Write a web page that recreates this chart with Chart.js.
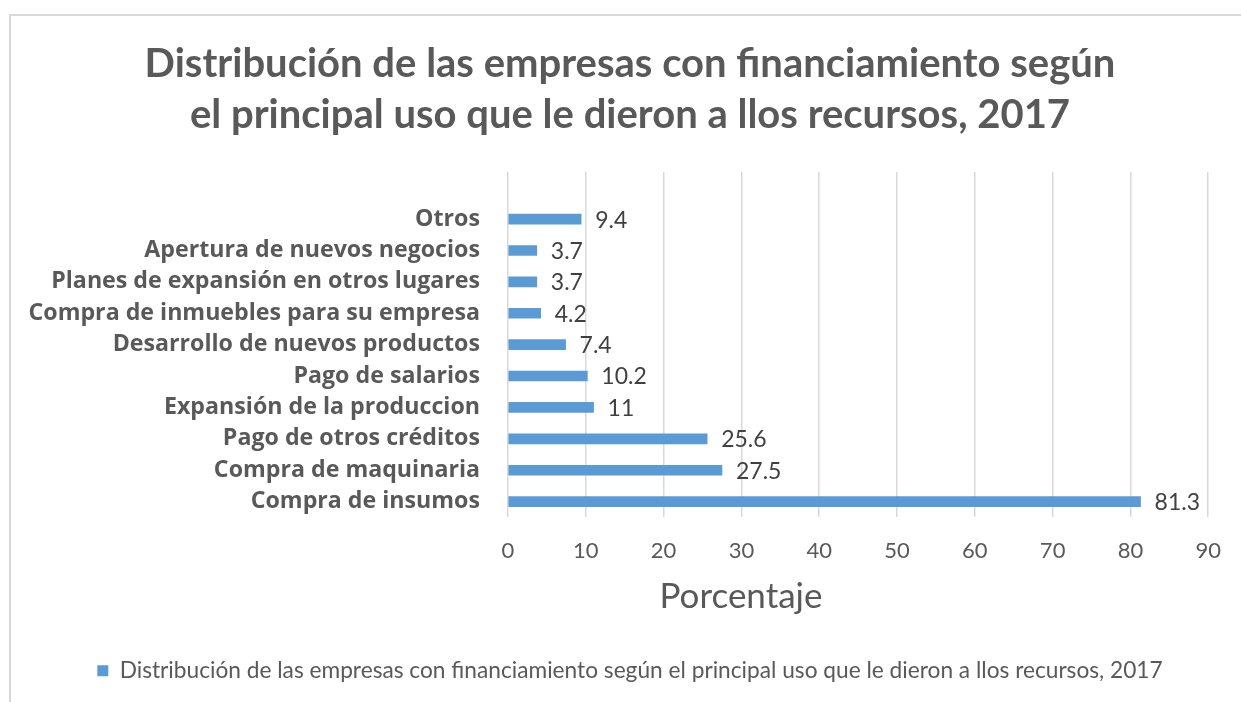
<!DOCTYPE html>
<html>
<head>
<meta charset="utf-8">
<script src="https://cdn.jsdelivr.net/npm/chart.js@4/dist/chart.umd.min.js"></script>
<style>
  html, body { margin: 0; padding: 0; background: #fff; overflow: hidden; }
  #chart { display: block; }
</style>
</head>
<body>
<canvas id="chart" width="1241" height="702"></canvas>
<script>
// top to bottom, as in the picture
var categories = [
    'Otros',
    'Apertura de nuevos negocios',
    'Planes de expansión en otros lugares',
    'Compra de inmuebles para su empresa',
    'Desarrollo de nuevos productos',
    'Pago de salarios',
    'Expansión de la produccion',
    'Pago de otros créditos',
    'Compra de maquinaria',
    'Compra de insumos'
]
var values = [9.4, 3.7, 3.7, 4.2, 7.4, 10.2, 11, 25.6, 27.5, 81.3]
var xTicks = [0, 10, 20, 30, 40, 50, 60, 70, 80, 90]
var xTitle = 'Porcentaje'
var seriesName = 'Distribución de las empresas con financiamiento según el principal uso que le dieron a llos recursos, 2017'
var titleLines = ['Distribución de las empresas con financiamiento según', 'el principal uso que le dieron a llos recursos, 2017']

// empty slot on top, Excel leaves one there
var labels = [''].concat(categories)
var data = [null].concat(values)

var FONT = 'Lato, "Open Sans", sans-serif'
var LABEL_FONT = '"Open Sans", Lato, sans-serif'

var frame = {
    id: 'frame',
    beforeDraw: function(chart) {
        var c = chart.ctx
        c.save()
        c.fillStyle = '#fff'
        c.fillRect(0, 0, chart.width, chart.height)
        c.strokeStyle = '#d9d9d9'
        c.lineWidth = 2
        c.strokeRect(10, 15, chart.width + 20, chart.height + 20)
        c.restore()
    },
    // excel centres title and legend on a frame wider than the window
    afterLayout: function(chart) {
        chart.titleBlock.left += 39
        chart.legend.left += 39
    }
}

// value labels at bar ends + axis title (Excel puts it off-centre)
var extraText = {
    id: 'extraText',
    afterDatasetsDraw: function(chart) {
        var c = chart.ctx
        var meta = chart.getDatasetMeta(0)
        c.save()
        c.font = '23px ' + FONT
        c.fillStyle = '#404040'
        c.textBaseline = 'middle'
        c.textAlign = 'left'
        meta.data.forEach(function(bar, i) {
            var v = data[i]
            if (v === null) return
            c.fillText(String(v), bar.x + 14, bar.y + 1)
        })
        c.font = '35px ' + FONT
        c.fillStyle = '#595959'
        c.textAlign = 'center'
        c.fillText(xTitle, 741, 597)
        c.restore()
    }
}

var ctx = document.getElementById('chart').getContext('2d')
var newChart = new Chart(ctx, {
    type: 'bar',
    data: {
        labels: labels,
        datasets: [{
            label: seriesName,
            data: data,
            backgroundColor: '#5b9bd5',
            barThickness: 10
        }]
    },
    options: {
        indexAxis: 'y',
        responsive: false,
        animation: false,
        devicePixelRatio: 1,
        layout: { padding: { left: 10, right: 30, top: 0, bottom: 10 } },
        scales: {
            x: {
                min: 0,
                max: 90,
                afterBuildTicks: function(scale) {
                    scale.ticks = xTicks.map(function(v) { return { value: v } })
                },
                afterFit: function(scale) { scale.height = 132 },
                grid: { color: '#d9d9d9', lineWidth: 1.5, drawTicks: false },
                border: { display: false },
                ticks: {
                    padding: 20,
                    color: '#595959',
                    font: { family: FONT, size: 22 }
                }
            },
            y: {
                afterFit: function(scale) { scale.width = 498 },
                grid: { display: false, drawTicks: false },
                border: { display: false },
                ticks: {
                    autoSkip: false,
                    padding: 28,
                    color: '#595959',
                    font: { family: LABEL_FONT, size: 23.2, weight: 'bold' }
                }
            }
        },
        plugins: {
            title: {
                display: true,
                text: titleLines,
                color: '#595959',
                font: { family: FONT, size: 40, weight: 'bold', lineHeight: 1.275 },
                padding: { top: 38.5, bottom: 31.5 }
            },
            legend: {
                position: 'bottom',
                labels: {
                    color: '#595959',
                    boxWidth: 11,
                    boxHeight: 11,
                    padding: 10,
                    font: { family: FONT, size: 22.7 }
                }
            },
            tooltip: { enabled: false }
        }
    },
    plugins: [frame, extraText]
})
</script>
</body>
</html>
